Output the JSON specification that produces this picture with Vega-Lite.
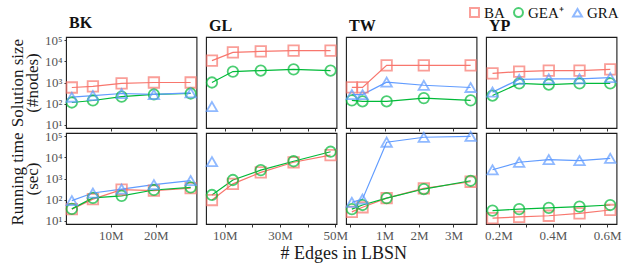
{
"$schema":"https://vega.github.io/schema/vega-lite/v6.json",
"padding":{"left":7,"top":5,"right":2,"bottom":2},
"autosize":{"type":"pad"},
"bounds":"flush",
"columns":4,
"spacing":{"row":5,"column":9},
"data":{"values":[
{"p":"BK","m":"s","k":"BA","x":1.3,"y":580},{"p":"BK","m":"s","k":"BA","x":6,"y":650},{"p":"BK","m":"s","k":"BA","x":12.4,"y":900},{"p":"BK","m":"s","k":"BA","x":19.6,"y":1000},{"p":"BK","m":"s","k":"BA","x":27.8,"y":1000},
{"p":"BK","m":"s","k":"GEA⁺","x":1.3,"y":112},{"p":"BK","m":"s","k":"GEA⁺","x":6,"y":140},{"p":"BK","m":"s","k":"GEA⁺","x":12.4,"y":215},{"p":"BK","m":"s","k":"GEA⁺","x":19.6,"y":270},{"p":"BK","m":"s","k":"GEA⁺","x":27.8,"y":300},
{"p":"BK","m":"s","k":"GRA","x":1.3,"y":200},{"p":"BK","m":"s","k":"GRA","x":6,"y":240},{"p":"BK","m":"s","k":"GRA","x":12.4,"y":300},{"p":"BK","m":"s","k":"GRA","x":19.6,"y":270},{"p":"BK","m":"s","k":"GRA","x":27.8,"y":320},
{"p":"BK","m":"t","k":"BA","x":1.3,"y":35},{"p":"BK","m":"t","k":"BA","x":6,"y":105},{"p":"BK","m":"t","k":"BA","x":12.4,"y":295},{"p":"BK","m":"t","k":"BA","x":19.6,"y":265},{"p":"BK","m":"t","k":"BA","x":27.8,"y":350},
{"p":"BK","m":"t","k":"GEA⁺","x":1.3,"y":36},{"p":"BK","m":"t","k":"GEA⁺","x":6,"y":120},{"p":"BK","m":"t","k":"GEA⁺","x":12.4,"y":150},{"p":"BK","m":"t","k":"GEA⁺","x":19.6,"y":285},{"p":"BK","m":"t","k":"GEA⁺","x":27.8,"y":380},
{"p":"BK","m":"t","k":"GRA","x":1.3,"y":89},{"p":"BK","m":"t","k":"GRA","x":6,"y":205},{"p":"BK","m":"t","k":"GRA","x":12.4,"y":315},{"p":"BK","m":"t","k":"GRA","x":19.6,"y":510},{"p":"BK","m":"t","k":"GRA","x":27.8,"y":795},
{"p":"GL","m":"s","k":"BA","x":5.3,"y":11000},{"p":"GL","m":"s","k":"BA","x":12.9,"y":27000},{"p":"GL","m":"s","k":"BA","x":23,"y":30000},{"p":"GL","m":"s","k":"BA","x":34.9,"y":33000},{"p":"GL","m":"s","k":"BA","x":48.3,"y":33000},
{"p":"GL","m":"s","k":"GEA⁺","x":5.3,"y":1000},{"p":"GL","m":"s","k":"GEA⁺","x":12.9,"y":3300},{"p":"GL","m":"s","k":"GEA⁺","x":23,"y":3700},{"p":"GL","m":"s","k":"GEA⁺","x":34.9,"y":4200},{"p":"GL","m":"s","k":"GEA⁺","x":48.3,"y":3700},
{"p":"GL","m":"s","k":"GRA","x":5.3,"y":72},
{"p":"GL","m":"t","k":"BA","x":5.3,"y":95},{"p":"GL","m":"t","k":"BA","x":12.9,"y":555},{"p":"GL","m":"t","k":"BA","x":23,"y":1950},{"p":"GL","m":"t","k":"BA","x":34.9,"y":5900},{"p":"GL","m":"t","k":"BA","x":48.3,"y":13000},
{"p":"GL","m":"t","k":"GEA⁺","x":5.3,"y":165},{"p":"GL","m":"t","k":"GEA⁺","x":12.9,"y":850},{"p":"GL","m":"t","k":"GEA⁺","x":23,"y":2500},{"p":"GL","m":"t","k":"GEA⁺","x":34.9,"y":6600},{"p":"GL","m":"t","k":"GEA⁺","x":48.3,"y":18700},
{"p":"GL","m":"t","k":"GRA","x":5.3,"y":6300},
{"p":"TW","m":"s","k":"BA","x":0.05,"y":590},{"p":"TW","m":"s","k":"BA","x":0.36,"y":590},{"p":"TW","m":"s","k":"BA","x":1.06,"y":6500},{"p":"TW","m":"s","k":"BA","x":2.14,"y":6500},{"p":"TW","m":"s","k":"BA","x":3.5,"y":6500},
{"p":"TW","m":"s","k":"GEA⁺","x":0.05,"y":141},{"p":"TW","m":"s","k":"GEA⁺","x":0.36,"y":128},{"p":"TW","m":"s","k":"GEA⁺","x":1.06,"y":128},{"p":"TW","m":"s","k":"GEA⁺","x":2.14,"y":182},{"p":"TW","m":"s","k":"GEA⁺","x":3.5,"y":141},
{"p":"TW","m":"s","k":"GRA","x":0.05,"y":265},{"p":"TW","m":"s","k":"GRA","x":0.36,"y":265},{"p":"TW","m":"s","k":"GRA","x":1.06,"y":1040},{"p":"TW","m":"s","k":"GRA","x":2.14,"y":740},{"p":"TW","m":"s","k":"GRA","x":3.5,"y":580},
{"p":"TW","m":"t","k":"BA","x":0.05,"y":26},{"p":"TW","m":"t","k":"BA","x":0.36,"y":43},{"p":"TW","m":"t","k":"BA","x":1.06,"y":117},{"p":"TW","m":"t","k":"BA","x":2.14,"y":340},{"p":"TW","m":"t","k":"BA","x":3.5,"y":700},
{"p":"TW","m":"t","k":"GEA⁺","x":0.05,"y":35},{"p":"TW","m":"t","k":"GEA⁺","x":0.36,"y":55},{"p":"TW","m":"t","k":"GEA⁺","x":1.06,"y":117},{"p":"TW","m":"t","k":"GEA⁺","x":2.14,"y":316},{"p":"TW","m":"t","k":"GEA⁺","x":3.5,"y":780},
{"p":"TW","m":"t","k":"GRA","x":0.05,"y":74},{"p":"TW","m":"t","k":"GRA","x":0.36,"y":105},{"p":"TW","m":"t","k":"GRA","x":1.06,"y":53000},{"p":"TW","m":"t","k":"GRA","x":2.14,"y":91000},{"p":"TW","m":"t","k":"GRA","x":3.5,"y":100000},
{"p":"YP","m":"s","k":"BA","x":0.178,"y":2700},{"p":"YP","m":"s","k":"BA","x":0.276,"y":3300},{"p":"YP","m":"s","k":"BA","x":0.385,"y":3700},{"p":"YP","m":"s","k":"BA","x":0.498,"y":3700},{"p":"YP","m":"s","k":"BA","x":0.611,"y":4200},
{"p":"YP","m":"s","k":"GEA⁺","x":0.178,"y":240},{"p":"YP","m":"s","k":"GEA⁺","x":0.276,"y":900},{"p":"YP","m":"s","k":"GEA⁺","x":0.385,"y":800},{"p":"YP","m":"s","k":"GEA⁺","x":0.498,"y":900},{"p":"YP","m":"s","k":"GEA⁺","x":0.611,"y":900},
{"p":"YP","m":"s","k":"GRA","x":0.178,"y":350},{"p":"YP","m":"s","k":"GRA","x":0.276,"y":1400},{"p":"YP","m":"s","k":"GRA","x":0.385,"y":1500},{"p":"YP","m":"s","k":"GRA","x":0.498,"y":1500},{"p":"YP","m":"s","k":"GRA","x":0.611,"y":1700},
{"p":"YP","m":"t","k":"BA","x":0.178,"y":13},{"p":"YP","m":"t","k":"BA","x":0.276,"y":15},{"p":"YP","m":"t","k":"BA","x":0.385,"y":17},{"p":"YP","m":"t","k":"BA","x":0.498,"y":22},{"p":"YP","m":"t","k":"BA","x":0.611,"y":32},
{"p":"YP","m":"t","k":"GEA⁺","x":0.178,"y":30},{"p":"YP","m":"t","k":"GEA⁺","x":0.276,"y":35},{"p":"YP","m":"t","k":"GEA⁺","x":0.385,"y":40},{"p":"YP","m":"t","k":"GEA⁺","x":0.498,"y":46},{"p":"YP","m":"t","k":"GEA⁺","x":0.611,"y":55},
{"p":"YP","m":"t","k":"GRA","x":0.178,"y":2600},{"p":"YP","m":"t","k":"GRA","x":0.276,"y":5900},{"p":"YP","m":"t","k":"GRA","x":0.385,"y":7900},{"p":"YP","m":"t","k":"GRA","x":0.498,"y":7100},{"p":"YP","m":"t","k":"GRA","x":0.611,"y":9100}
]},
"title":{"text":"# Edges in LBSN","orient":"bottom","anchor":"middle","frame":"bounds","font":"Liberation Serif","fontSize":18,"fontWeight":"normal","color":"#1a1a1a","offset":2,"dx":29},
"config":{
 "font":"Liberation Serif",
 "view":{"stroke":"#1a1a1a","strokeWidth":1.1},
 "title":{"font":"Liberation Serif","fontSize":16,"fontWeight":"bold","color":"#111","anchor":"start","frame":"group","offset":3,"dx":3},
 "axis":{"grid":false,"domain":false,"tickColor":"#333","tickSize":3,"labelFont":"Liberation Serif","labelFontSize":13,"labelColor":"#555","labelPadding":2,"titleFont":"Liberation Serif","titleFontSize":17,"titleFontWeight":"normal","titleColor":"#1a1a1a","labelFlush":false,"labelOverlap":false},
 "legend":{"labelFont":"Liberation Serif","labelFontSize":15,"labelColor":"#111","symbolStrokeWidth":2,"symbolSize":80,"columnPadding":5,"labelOffset":2}
},
"concat":[
 {"width":130.5,"height":91,"title":{"text":"BK"},"transform":[{"filter":"datum.p=='BK'&&datum.m=='s'"}],
  "encoding":{"x":{"field":"x","type":"quantitative","scale":{"domain":[0,29.1],"nice":false,"zero":false},"axis":{"values":[10,20],"labels":false,"title":null}},
   "y":{"field":"y","type":"quantitative","scale":{"type":"log","domain":[6.9,145000],"nice":false},"axis":{"values":[10,100,1000,10000,100000],"tickSize":2,"labelExpr":"datum.value==10?'10¹':datum.value==100?'10²':datum.value==1000?'10³':datum.value==10000?'10⁴':'10⁵'","title":["Solution size","(#nodes)"],"titleLineHeight":15,"titlePadding":3}},
   "color":{"field":"k","type":"nominal","scale":{"domain":["BA","GEA⁺","GRA"],"range":["#F8766D","#00BA38","#619CFF"]},"legend":{"title":null,"orient":"none","legendX":401,"legendY":-32,"direction":"horizontal"}}},
  "layer":[{"mark":{"type":"line","strokeWidth":1.2}},
   {"mark":{"type":"point","filled":false,"size":110,"strokeWidth":1.8},"encoding":{"shape":{"field":"k","type":"nominal","scale":{"domain":["BA","GEA⁺","GRA"],"range":["square","circle","triangle-up"]},"legend":{"title":null,"orient":"none","legendX":401,"legendY":-32,"direction":"horizontal"}}}}]},
 {"width":130.5,"height":91,"title":{"text":"GL"},"transform":[{"filter":"datum.p=='GL'&&datum.m=='s'"}],
  "encoding":{"x":{"field":"x","type":"quantitative","scale":{"domain":[3.15,50.45],"nice":false,"zero":false},"axis":{"values":[10,20,30,40,50],"labels":false,"title":null}},
   "y":{"field":"y","type":"quantitative","scale":{"type":"log","domain":[6.9,145000],"nice":false},"axis":null},
   "color":{"field":"k","type":"nominal","legend":{"title":null,"orient":"none","legendX":401,"legendY":-32,"direction":"horizontal"}}},
  "layer":[{"mark":{"type":"line","strokeWidth":1.2}},
   {"mark":{"type":"point","filled":false,"size":110,"strokeWidth":1.8},"encoding":{"shape":{"field":"k","type":"nominal","legend":{"title":null,"orient":"none","legendX":401,"legendY":-32,"direction":"horizontal"}}}}]},
 {"width":130.5,"height":91,"title":{"text":"TW"},"transform":[{"filter":"datum.p=='TW'&&datum.m=='s'"}],
  "encoding":{"x":{"field":"x","type":"quantitative","scale":{"domain":[-0.12,3.67],"nice":false,"zero":false},"axis":{"values":[0,1,2,3],"labels":false,"title":null}},
   "y":{"field":"y","type":"quantitative","scale":{"type":"log","domain":[6.9,145000],"nice":false},"axis":null},
   "color":{"field":"k","type":"nominal","legend":{"title":null,"orient":"none","legendX":401,"legendY":-32,"direction":"horizontal"}}},
  "layer":[{"mark":{"type":"line","strokeWidth":1.2}},
   {"mark":{"type":"point","filled":false,"size":110,"strokeWidth":1.8},"encoding":{"shape":{"field":"k","type":"nominal","legend":{"title":null,"orient":"none","legendX":401,"legendY":-32,"direction":"horizontal"}}}}]},
 {"width":130.5,"height":91,"title":{"text":"YP"},"transform":[{"filter":"datum.p=='YP'&&datum.m=='s'"}],
  "encoding":{"x":{"field":"x","type":"quantitative","scale":{"domain":[0.154,0.634],"nice":false,"zero":false},"axis":{"values":[0.2,0.3,0.4,0.5,0.6],"labels":false,"title":null}},
   "y":{"field":"y","type":"quantitative","scale":{"type":"log","domain":[6.9,145000],"nice":false},"axis":null},
   "color":{"field":"k","type":"nominal","legend":{"title":null,"orient":"none","legendX":401,"legendY":-32,"direction":"horizontal"}}},
  "layer":[{"mark":{"type":"line","strokeWidth":1.2}},
   {"mark":{"type":"point","filled":false,"size":110,"strokeWidth":1.8},"encoding":{"shape":{"field":"k","type":"nominal","legend":{"title":null,"orient":"none","legendX":401,"legendY":-32,"direction":"horizontal"}}}}]},
 {"width":130.5,"height":91,"transform":[{"filter":"datum.p=='BK'&&datum.m=='t'"}],
  "encoding":{"x":{"field":"x","type":"quantitative","scale":{"domain":[0,29.1],"nice":false,"zero":false},"axis":{"values":[10,20],"labelExpr":"datum.value+'M'","title":null}},
   "y":{"field":"y","type":"quantitative","scale":{"type":"log","domain":[6.9,145000],"nice":false},"axis":{"values":[10,100,1000,10000,100000],"tickSize":2,"labelExpr":"datum.value==10?'10¹':datum.value==100?'10²':datum.value==1000?'10³':datum.value==10000?'10⁴':'10⁵'","title":["Running time","(sec)"],"titleLineHeight":15,"titlePadding":3}},
   "color":{"field":"k","type":"nominal","legend":{"title":null,"orient":"none","legendX":401,"legendY":-32,"direction":"horizontal"}}},
  "layer":[{"mark":{"type":"line","strokeWidth":1.2}},
   {"mark":{"type":"point","filled":false,"size":110,"strokeWidth":1.8},"encoding":{"shape":{"field":"k","type":"nominal","legend":{"title":null,"orient":"none","legendX":401,"legendY":-32,"direction":"horizontal"}}}}]},
 {"width":130.5,"height":91,"transform":[{"filter":"datum.p=='GL'&&datum.m=='t'"}],
  "encoding":{"x":{"field":"x","type":"quantitative","scale":{"domain":[3.15,50.45],"nice":false,"zero":false},"axis":{"values":[10,20,30,40,50],"labelExpr":"datum.value==10||datum.value==30||datum.value==50?datum.value+'M':''","title":null}},
   "y":{"field":"y","type":"quantitative","scale":{"type":"log","domain":[6.9,145000],"nice":false},"axis":null},
   "color":{"field":"k","type":"nominal","legend":{"title":null,"orient":"none","legendX":401,"legendY":-32,"direction":"horizontal"}}},
  "layer":[{"mark":{"type":"line","strokeWidth":1.2}},
   {"mark":{"type":"point","filled":false,"size":110,"strokeWidth":1.8},"encoding":{"shape":{"field":"k","type":"nominal","legend":{"title":null,"orient":"none","legendX":401,"legendY":-32,"direction":"horizontal"}}}}]},
 {"width":130.5,"height":91,"transform":[{"filter":"datum.p=='TW'&&datum.m=='t'"}],
  "encoding":{"x":{"field":"x","type":"quantitative","scale":{"domain":[-0.12,3.67],"nice":false,"zero":false},"axis":{"values":[0,1,2,3],"labelExpr":"datum.value==0?'':datum.value+'M'","title":null}},
   "y":{"field":"y","type":"quantitative","scale":{"type":"log","domain":[6.9,145000],"nice":false},"axis":null},
   "color":{"field":"k","type":"nominal","legend":{"title":null,"orient":"none","legendX":401,"legendY":-32,"direction":"horizontal"}}},
  "layer":[{"mark":{"type":"line","strokeWidth":1.2}},
   {"mark":{"type":"point","filled":false,"size":110,"strokeWidth":1.8},"encoding":{"shape":{"field":"k","type":"nominal","legend":{"title":null,"orient":"none","legendX":401,"legendY":-32,"direction":"horizontal"}}}}]},
 {"width":130.5,"height":91,"transform":[{"filter":"datum.p=='YP'&&datum.m=='t'"}],
  "encoding":{"x":{"field":"x","type":"quantitative","scale":{"domain":[0.154,0.634],"nice":false,"zero":false},"axis":{"values":[0.2,0.3,0.4,0.5,0.6],"labelExpr":"datum.value==0.2||datum.value==0.4||datum.value==0.6?datum.value+'M':''","title":null}},
   "y":{"field":"y","type":"quantitative","scale":{"type":"log","domain":[6.9,145000],"nice":false},"axis":null},
   "color":{"field":"k","type":"nominal","legend":{"title":null,"orient":"none","legendX":401,"legendY":-32,"direction":"horizontal"}}},
  "layer":[{"mark":{"type":"line","strokeWidth":1.2}},
   {"mark":{"type":"point","filled":false,"size":110,"strokeWidth":1.8},"encoding":{"shape":{"field":"k","type":"nominal","legend":{"title":null,"orient":"none","legendX":401,"legendY":-32,"direction":"horizontal"}}}}]}
]
}
